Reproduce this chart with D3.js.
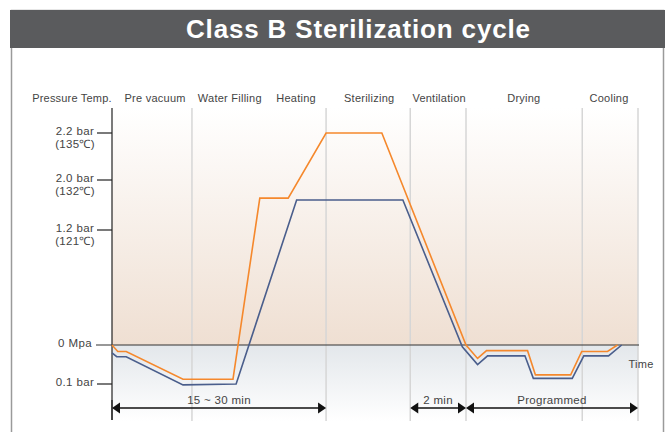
<!DOCTYPE html>
<html>
<head>
<meta charset="utf-8">
<script src="https://cdn.jsdelivr.net/npm/d3@7"></script>
<style>
  body { margin: 0; background: #fff; }
  svg text { font-family: "Liberation Sans", Arial, sans-serif; }
</style>
</head>
<body>
<div id="chart"></div>
<script>
// phases of the cycle, time runs 0..100 (schematic units)
var phases = ['Pre vacuum', 'Water Filling', 'Heating', 'Sterilizing', 'Ventilation', 'Drying', 'Cooling'];
var phaseCenters = [8.2, 22.4, 35, 48.9, 62.2, 78.3, 94.5];
var dividers = [15.2, 40.7, 56.7, 67.3, 89.4, 100];

// y axis ticks (bar)
var tickValues = [2.2, 2.0, 1.2, 0, -0.9];
var tickLabels = ['2.2 bar', '2.0 bar', '1.2 bar', '0 Mpa', '0.1 bar'];
var tickTemps = ['(135\u2103)', '(132\u2103)', '(121\u2103)', '', ''];

// orange line
var tempTime = [0, 1.1, 2.7, 13.5, 23.0, 28.1, 33.5, 40.7, 51.3, 67.3, 69.5, 71.2, 79.0, 80.5, 87.2, 89.3, 94.2, 96.1];
var tempValue = [0, -0.15, -0.15, -0.79, -0.79, 1.71, 1.71, 2.2, 2.2, 0, -0.31, -0.13, -0.13, -0.69, -0.69, -0.15, -0.15, 0];

// blue line
var presTime = [0, 0.9, 2.7, 13.5, 23.6, 35.1, 55.3, 66.6, 69.5, 71.4, 78.5, 80.1, 87.5, 89.7, 94.4, 96.9];
var presValue = [-0.18, -0.27, -0.27, -0.92, -0.9, 1.68, 1.68, -0.04, -0.45, -0.25, -0.25, -0.77, -0.77, -0.25, -0.25, 0];

// duration arrows
var arrowFrom = [0, 56.7, 67.3];
var arrowTo = [40.7, 67.3, 100];
var arrowLabels = ['15 ~ 30 min', '2 min', 'Programmed'];

var W = 666, H = 432;
var plotTop = 108, plotBottom = 421;

var svg = d3.select('#chart').append('svg')
  .attr('width', W)
  .attr('height', H);

var x = d3.scaleLinear().domain([0, 100]).range([112, 638]);
// schematic, piecewise axis
var y = d3.scaleLinear().domain([-0.9, 0, 1.2, 2.0, 2.2]).range([384, 345, 230, 180, 133]);

var defs = svg.append('defs');
var g1 = defs.append('linearGradient').attr('id', 'upper').attr('x1', 0).attr('x2', 0).attr('y1', 0).attr('y2', 1);
g1.append('stop').attr('offset', '0%').attr('stop-color', '#ffffff');
g1.append('stop').attr('offset', '100%').attr('stop-color', '#efdfd2');
var g2 = defs.append('linearGradient').attr('id', 'lower').attr('x1', 0).attr('x2', 0).attr('y1', 0).attr('y2', 1);
g2.append('stop').attr('offset', '0%').attr('stop-color', '#e3e7eb');
g2.append('stop').attr('offset', '100%').attr('stop-color', '#ffffff');

// frame + title bar
svg.append('rect')
  .attr('x', 11.5).attr('y', 10.5)
  .attr('width', 652).attr('height', 430)
  .attr('fill', '#fff')
  .attr('stroke', '#9a9a9a')
  .attr('stroke-width', 1.5);
svg.append('rect')
  .attr('x', 10).attr('y', 10)
  .attr('width', 655).attr('height', 38)
  .attr('fill', '#5a5b5d');
svg.append('text')
  .attr('x', 358).attr('y', 38)
  .attr('text-anchor', 'middle')
  .attr('fill', '#fff')
  .attr('font-size', '26px')
  .attr('font-weight', 'bold')
  .attr('textLength', 344)
  .attr('lengthAdjust', 'spacing')
  .text('Class B Sterilization cycle');

// backgrounds
svg.append('rect')
  .attr('x', x(0)).attr('y', plotTop)
  .attr('width', x(100) - x(0)).attr('height', y(0) - plotTop)
  .attr('fill', 'url(#upper)');
svg.append('rect')
  .attr('x', x(0)).attr('y', y(0))
  .attr('width', x(100) - x(0)).attr('height', plotBottom - y(0))
  .attr('fill', 'url(#lower)');

// phase dividers
svg.selectAll('line.div')
  .data(dividers)
  .enter()
  .append('line')
  .attr('x1', function(d){ return x(d); })
  .attr('x2', function(d){ return x(d); })
  .attr('y1', plotTop).attr('y2', plotBottom)
  .attr('stroke', '#d6d6d6')
  .attr('stroke-width', 1.5);

// headers
svg.append('text')
  .attr('x', 72).attr('y', 102)
  .attr('text-anchor', 'middle')
  .attr('font-size', '11px')
  .attr('letter-spacing', '0.2px')
  .attr('fill', '#444')
  .text('Pressure Temp.');
svg.selectAll('text.phase')
  .data(phases)
  .enter()
  .append('text')
  .attr('x', function(d, i){ return x(phaseCenters[i]); })
  .attr('y', 102)
  .attr('text-anchor', 'middle')
  .attr('font-size', '11px')
  .attr('letter-spacing', '0.25px')
  .attr('fill', '#444')
  .text(function(d){ return d; });

// y axis
svg.append('line')
  .attr('x1', x(0)).attr('x2', x(0))
  .attr('y1', plotTop).attr('y2', plotBottom - 1)
  .attr('stroke', '#222')
  .attr('stroke-width', 1.2);

// zero line
svg.append('line')
  .attr('x1', 96).attr('x2', x(100) + 1)
  .attr('y1', y(0)).attr('y2', y(0))
  .attr('stroke', '#333')
  .attr('stroke-width', 1.2);

// ticks and labels
svg.selectAll('line.tick')
  .data(tickValues.filter(function(d){ return d !== 0; }))
  .enter()
  .append('line')
  .attr('x1', 97).attr('x2', x(0))
  .attr('y1', function(d){ return y(d); })
  .attr('y2', function(d){ return y(d); })
  .attr('stroke', '#222')
  .attr('stroke-width', 1.2);

svg.selectAll('text.tick')
  .data(tickValues)
  .enter()
  .append('text')
  .attr('x', 75)
  .attr('y', function(d){ return y(d) + 2; })
  .attr('text-anchor', 'middle')
  .attr('font-size', '11.5px')
  .attr('letter-spacing', '0.4px')
  .attr('fill', '#444')
  .text(function(d, i){ return tickLabels[i]; });

svg.selectAll('text.temp')
  .data(tickValues)
  .enter()
  .append('text')
  .attr('x', 75)
  .attr('y', function(d){ return y(d) + 15; })
  .attr('text-anchor', 'middle')
  .attr('font-size', '11.5px')
  .attr('letter-spacing', '0.3px')
  .attr('fill', '#444')
  .text(function(d, i){ return tickTemps[i]; });

// lines
var line = d3.line()
  .x(function(d){ return x(d[0]); })
  .y(function(d){ return y(d[1]); });

svg.append('path')
  .datum(d3.zip(presTime, presValue))
  .attr('d', line)
  .attr('fill', 'none')
  .attr('stroke', '#4a5e8c')
  .attr('stroke-width', 1.6);

svg.append('path')
  .datum(d3.zip(tempTime, tempValue))
  .attr('d', line)
  .attr('fill', 'none')
  .attr('stroke', '#f5882c')
  .attr('stroke-width', 1.6);

svg.append('text')
  .attr('x', 641).attr('y', 368)
  .attr('text-anchor', 'middle')
  .attr('font-size', '11px')
  .attr('letter-spacing', '0.3px')
  .attr('fill', '#444')
  .text('Time');

// duration arrows
var arrowY = 408;
var arrows = svg.selectAll('g.arrow')
  .data(arrowLabels)
  .enter()
  .append('g');

arrows.append('line')
  .attr('x1', function(d, i){ return x(arrowFrom[i]) + 4; })
  .attr('x2', function(d, i){ return x(arrowTo[i]) - 4; })
  .attr('y1', arrowY).attr('y2', arrowY)
  .attr('stroke', '#111')
  .attr('stroke-width', 1.5);

arrows.append('path')
  .attr('d', function(d, i){
    var a = x(arrowFrom[i]);
    return 'M' + a + ',' + arrowY + 'L' + (a + 8) + ',' + (arrowY - 5.5) + 'L' + (a + 8) + ',' + (arrowY + 5.5) + 'Z';
  })
  .attr('fill', '#111');

arrows.append('path')
  .attr('d', function(d, i){
    var b = x(arrowTo[i]);
    return 'M' + b + ',' + arrowY + 'L' + (b - 8) + ',' + (arrowY - 5.5) + 'L' + (b - 8) + ',' + (arrowY + 5.5) + 'Z';
  })
  .attr('fill', '#111');

arrows.append('text')
  .attr('x', function(d, i){ return (x(arrowFrom[i]) + x(arrowTo[i])) / 2; })
  .attr('y', arrowY - 4)
  .attr('text-anchor', 'middle')
  .attr('font-size', '11.5px')
  .attr('letter-spacing', '0.3px')
  .attr('fill', '#444')
  .text(function(d){ return d; });

// axis stub under the arrows
svg.append('line')
  .attr('x1', x(0)).attr('x2', x(0))
  .attr('y1', 400).attr('y2', 420)
  .attr('stroke', '#222')
  .attr('stroke-width', 1.2);
</script>
</body>
</html>
